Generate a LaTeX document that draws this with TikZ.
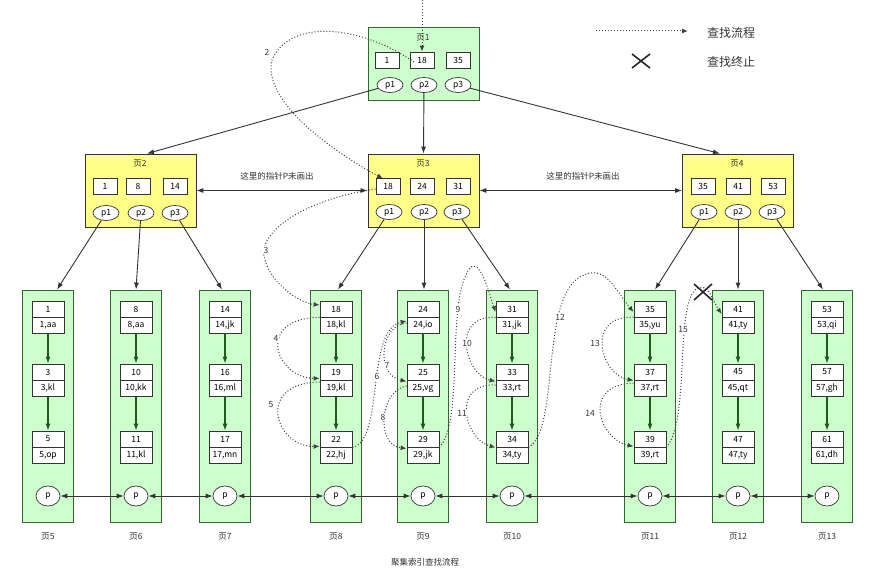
\documentclass[tikz,border=0pt]{standalone}
\usepackage{fontspec}
\setmainfont{Noto Sans CJK SC}
\usetikzlibrary{arrows.meta,shapes.geometric,calc}
\definecolor{lgreen}{RGB}{204,255,204}
\definecolor{gborder}{RGB}{51,102,51}
\definecolor{lyellow}{RGB}{255,255,136}
\definecolor{dgray}{RGB}{51,51,51}
\definecolor{agreen}{RGB}{30,90,30}
\begin{document}
\begin{tikzpicture}[x=1pt,y=-1pt,
  font=\fontsize{8.5}{9}\selectfont,
  greenpage/.style={draw=gborder,fill=lgreen,line width=0.8pt,minimum width=111pt,minimum height=73pt,inner sep=0pt},
  yellowpage/.style={draw=dgray,fill=lyellow,line width=0.8pt,minimum width=111pt,minimum height=73pt,inner sep=0pt},
  leafbox/.style={draw=gborder,fill=lgreen,line width=0.8pt,minimum width=51pt,minimum height=232pt,inner sep=0pt},
  keybox/.style={draw=dgray,fill=white,line width=0.8pt,minimum width=24pt,minimum height=16pt,inner sep=0pt},
  recbox/.style={draw=dgray,fill=white,line width=0.8pt,minimum width=32pt,minimum height=16pt,inner sep=0pt},
  ptr/.style={ellipse,draw=dgray,fill=white,line width=0.7pt,minimum width=26pt,minimum height=15pt,inner sep=0pt},
  lptr/.style={ellipse,draw=dgray,fill=white,line width=0.7pt,minimum width=24pt,minimum height=20pt,inner sep=0pt},
  conn/.style={draw=dgray,line width=0.9pt,-{Latex[length=7pt,width=5pt]}},
  inarrow/.style={draw=agreen,line width=1.1pt,-{Latex[length=7pt,width=5pt]}},
  dbl/.style={draw=dgray,line width=0.9pt,{Latex[length=7pt,width=5pt]}-{Latex[length=7pt,width=5pt]}},
  search/.style={draw=black!75,dotted,line width=1pt,-{Latex[length=6pt,width=5pt]}},
  numlbl/.style={fill=white,inner sep=0.5pt,text=dgray,font=\fontsize{8.5}{9}\selectfont},
  pagelbl/.style={text=dgray,font=\fontsize{8.5}{10}\selectfont},
  xmark/.style={draw=black!85,line width=1.6pt}
]
\useasboundingbox (0,0) rectangle (880,572);

% ---------- internal pages ----------
\node[greenpage] (P1) at (423.5,63.5) {};
\node[pagelbl] (P1t) at (423,38) {页1};
\node[keybox] (P1k1) at (387,60) {1};
\node[keybox] (P1k2) at (422,60) {18};
\node[keybox] (P1k3) at (458,60) {35};
\node[ptr] (P1p1) at (390,85) {p1};
\node[ptr] (P1p2) at (424,85) {p2};
\node[ptr] (P1p3) at (458,85) {p3};

\node[yellowpage] (P2) at (140.5,190.5) {};
\node[pagelbl] (P2t) at (140,164) {页2};
\node[keybox] (P2k1) at (105,186) {1};
\node[keybox] (P2k2) at (138,186) {8};
\node[keybox] (P2k3) at (175,186) {14};
\node[ptr] (P2p1) at (106,213) {p1};
\node[ptr] (P2p2) at (141,213) {p2};
\node[ptr] (P2p3) at (175,213) {p3};

\node[yellowpage] (P3) at (423.5,190.5) {};
\node[pagelbl] (P3t) at (423,164) {页3};
\node[keybox] (P3k1) at (388,186) {18};
\node[keybox] (P3k2) at (422,186) {24};
\node[keybox] (P3k3) at (458,186) {31};
\node[ptr] (P3p1) at (389,212) {p1};
\node[ptr] (P3p2) at (424,212) {p2};
\node[ptr] (P3p3) at (457,212) {p3};

\node[yellowpage] (P4) at (738,190.5) {};
\node[pagelbl] (P4t) at (737,164) {页4};
\node[keybox] (P4k1) at (703,186) {35};
\node[keybox] (P4k2) at (738,186) {41};
\node[keybox] (P4k3) at (773,186) {53};
\node[ptr] (P4p1) at (704,212) {p1};
\node[ptr] (P4p2) at (738,212) {p2};
\node[ptr] (P4p3) at (772,212) {p3};

% ---------- leaf pages ----------
\foreach \x/\n/\a/\b/\c/\d/\e/\f in {
  48/5/1/{1,aa}/3/{3,kl}/5/{5,op},
  136/6/8/{8,aa}/10/{10,kk}/11/{11,kl},
  225/7/14/{14,jk}/16/{16,ml}/17/{17,mn},
  336/8/18/{18,kl}/19/{19,kl}/22/{22,hj},
  423/9/24/{24,io}/25/{25,vg}/29/{29,jk},
  512/10/31/{31,jk}/33/{33,rt}/34/{34,ty},
  650/11/35/{35,yu}/37/{37,rt}/39/{39,rt},
  738/12/41/{41,ty}/45/{45,qt}/47/{47,ty},
  827/13/53/{53,qi}/57/{57,gh}/61/{61,dh}}{
  \node[leafbox] (L\n) at (\x,406) {};
  \node[recbox] (k\n-1) at (\x,309) {\a};
  \node[recbox] (v\n-1) at (\x,325) {\b};
  \node[recbox] (k\n-2) at (\x,372) {\c};
  \node[recbox] (v\n-2) at (\x,388) {\d};
  \node[recbox] (k\n-3) at (\x,439) {\e};
  \node[recbox] (v\n-3) at (\x,455) {\f};
  \node[lptr] (p\n) at (\x,496) {p};
  \node[pagelbl] (t\n) at (\x,537) {页\n};
  \draw[inarrow] (v\n-1.south) -- (k\n-2.north);
  \draw[inarrow] (v\n-2.south) -- (k\n-3.north);
}

\foreach \a/\b in {5/6,6/7,7/8,8/9,9/10,10/11,11/12,12/13}{
  \draw[dbl] (p\a) -- (p\b);
}

% ---------- tree connectors ----------
\draw[conn] (P1p1) -- ($(P2.north)+(6.5,0)$);
\draw[conn] (P1p2) -- (P3.north);
\draw[conn] (P1p3) -- ($(P4.north)+(-18,0)$);
\draw[conn] (P2p1) -- ($(L5.north)+(9,0)$);
\draw[conn] (P2p2) -- (L6.north);
\draw[conn] (P2p3) -- ($(L7.north)+(-3,0)$);
\draw[conn] (P3p1) -- ($(L8.north)+(2,0)$);
\draw[conn] (P3p2) -- ($(L9.north)+(1,0)$);
\draw[conn] (P3p3) -- ($(L10.north)+(-2,0)$);
\draw[conn] (P4p1) -- ($(L11.north)+(5,0)$);
\draw[conn] (P4p2) -- (L12.north);
\draw[conn] (P4p3) -- ($(L13.north)+(-4,0)$);

\draw[dbl] (P2.east) -- (P3.west);
\draw[dbl] (P3.east) -- (P4.west);
\node[text=dgray] (n23) at (277,176) {这里的指针P未画出};
\node[text=dgray] (n34) at (583,176) {这里的指针P未画出};

% ---------- search path ----------
\coordinate (s0) at (422,0);
\draw[search] (s0) -- (P1k2.north);
\draw[search] ($(P1k2.center)+(-8,2)$) .. controls (360,25) and (290,18) .. (272,60)
   .. controls (262,100) and (330,150) .. ($(P3k1.north)+(-5,1)$);
\draw[search] ($(P3k1.west)+(0,3)$) .. controls (300,200) and (255,235) .. (265,260)
   .. controls (272,285) and (300,303) .. ($(k8-1.west)+(0,-4)$);
\draw[search] (k8-1.south west) .. controls (255,318) and (275,378) .. ($(k8-2.south west)+(0,-2)$);
\draw[search] ($(v8-2.west)+(0,-6)$) .. controls (255,383) and (275,447) .. ($(k8-3.south west)+(0,-1)$);
\draw[search] (k8-3.south east) .. controls (385,440) and (365,330) .. ($(v9-1.west)+(0,-4)$);
\draw[search] ($(v9-1.west)+(0,-2)$) .. controls (380,325) and (375,375) .. ($(k9-2.south west)+(0,1)$);
\draw[search] ($(v9-2.west)+(0,-2)$) .. controls (380,390) and (375,445) .. ($(k9-3.south west)+(0,1)$);
\draw[search] (k9-3.south east) .. controls (465,420) and (445,300) .. (470,268)
   .. controls (480,258) and (488,290) .. ($(k10-1.west)+(0,3)$);
\draw[search] (k10-1.south west) .. controls (450,315) and (465,375) .. ($(k10-2.south west)+(0,1)$);
\draw[search] ($(v10-2.west)+(0,-3)$) .. controls (450,383) and (465,440) .. (k10-3.south west);
\draw[search] (k10-3.south east) .. controls (560,430) and (540,300) .. (580,277)
   .. controls (605,262) and (615,290) .. ($(k11-1.west)+(0,3)$);
\draw[search] (k11-1.south west) .. controls (585,315) and (600,375) .. (k11-2.south west);
\draw[search] ($(v11-2.west)+(0,-5)$) .. controls (580,385) and (600,440) .. ($(k11-3.south west)+(0,-1)$);
\draw[search] (k11-3.south east) .. controls (690,420) and (675,310) .. (695,290)
   .. controls (708,280) and (712,300) .. ($(k12-1.west)+(0,5)$);

\node[numlbl] (n2) at (267,52) {2};
\node[numlbl] (n3) at (266,250) {3};
\node[numlbl] (n4) at (276,338) {4};
\node[numlbl] (n5) at (271,405) {5};
\node[numlbl] (n6) at (377,376) {6};
\node[numlbl] (n7) at (387,365) {7};
\node[numlbl] (n8) at (383,417) {8};
\node[numlbl] (n9) at (458,309) {9};
\node[numlbl] (n10) at (467,343) {10};
\node[numlbl] (n11) at (462,413) {11};
\node[numlbl] (n12) at (560,317) {12};
\node[numlbl] (n13) at (595,343) {13};
\node[numlbl] (n14) at (590,413) {14};
\node[numlbl] (n15) at (683,330) {15};

% stop mark
\coordinate (xm) at (703,292);
\draw[xmark] ($(xm)+(-9,-8)$) -- ($(xm)+(9,8)$);
\draw[xmark] ($(xm)+(-9,8)$) -- ($(xm)+(9,-8)$);

% ---------- legend ----------
\coordinate (lgA) at (596,31);
\coordinate (lgB) at (688,31);
\draw[search] (lgA) -- (lgB);
\node[text=dgray,font=\fontsize{12}{14}\selectfont] (lg1) at (731,33) {查找流程};
\coordinate (lx) at (641,61);
\draw[xmark] ($(lx)+(-9,-7)$) -- ($(lx)+(9,7)$);
\draw[xmark] ($(lx)+(-9,7)$) -- ($(lx)+(9,-7)$);
\node[text=dgray,font=\fontsize{12}{14}\selectfont] (lg2) at (731,62) {查找终止};

% ---------- title ----------
\node[text=dgray,font=\fontsize{8.5}{10}\selectfont] (title) at (425,562) {聚集索引查找流程};
\end{tikzpicture}
\end{document}
